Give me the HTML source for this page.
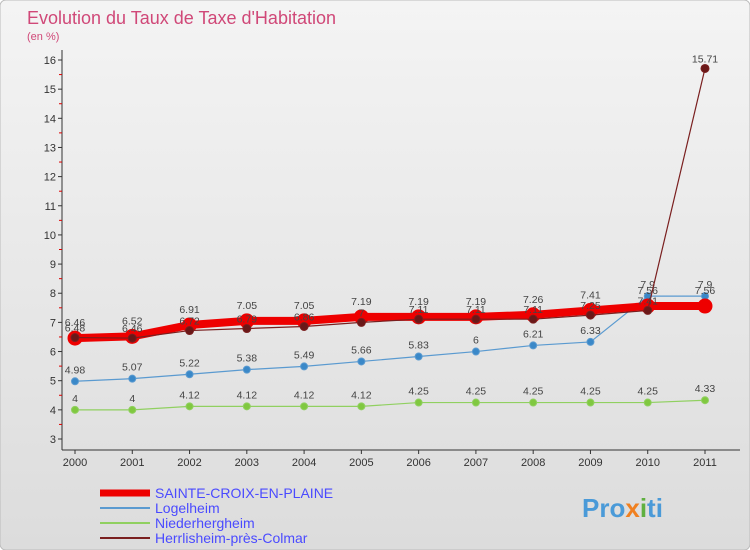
<!DOCTYPE html>
<html><head><meta charset="utf-8"><style>
body{margin:0;background:#fff}
svg{display:block;font-family:"Liberation Sans",sans-serif}
</style></head><body>
<svg width="750" height="550" viewBox="0 0 750 550">
<defs><linearGradient id="bg" x1="0" y1="0" x2="0" y2="1"><stop offset="0" stop-color="#f4f4f4"/><stop offset="1" stop-color="#dcdcdc"/></linearGradient></defs>
<rect x="0" y="0" width="750" height="550" rx="6" fill="url(#bg)" stroke="#bbb"/>
<text x="27" y="24" font-size="18" fill="#d04878">Evolution du Taux de Taxe d'Habitation</text>
<text x="27" y="40" font-size="11" fill="#d04878">(en %)</text>
<g id="axes"></g>
<g id="series"></g>
<g id="legend"></g>
<text x="582" y="517" font-size="26" font-weight="bold" fill="#4a9ad8">Pro<tspan fill="#f08020">x</tspan><tspan fill="#60b040">i</tspan>ti</text>
</svg>
<script>
const years=["2000","2001","2002","2003","2004","2005","2006","2007","2008","2009","2010","2011"];
const yTicks=[3,4,5,6,7,8,9,10,11,12,13,14,15,16];
const sainte=[6.46,6.52,6.91,7.05,7.05,7.19,7.19,7.19,7.26,7.41,7.56,7.56];
const logel=[4.98,5.07,5.22,5.38,5.49,5.66,5.83,6,6.21,6.33,7.9,7.9];
const nieder=[4,4,4.12,4.12,4.12,4.12,4.25,4.25,4.25,4.25,4.25,4.33];
const herr=[6.48,6.46,6.72,6.79,6.86,7,7.11,7.11,7.11,7.25,7.41,15.71];
const NS="http://www.w3.org/2000/svg";
const x=i=>75+i*(630/11);
const y=v=>439-(v-3)*(379/13);
function mk(t,a,p){const e=document.createElementNS(NS,t);for(const k in a)e.setAttribute(k,a[k]);p.appendChild(e);return e;}
const ax=document.getElementById('axes');
const yl=mk('line',{x1:62,y1:50,x2:62,y2:450,stroke:'#333'},ax);


const xl=mk('line',{x1:62,y1:450,x2:740,y2:450,stroke:'#333'},ax);


yTicks.forEach(v=>{
 mk('line',{x1:58,y1:y(v),x2:62,y2:y(v),stroke:'#333'},ax);
 if(v<16)mk('line',{x1:59,y1:y(v+0.5),x2:62,y2:y(v+0.5),stroke:'#d00'},ax);
 const t=mk('text',{x:56,y:y(v)+4,'font-size':11,'text-anchor':'end',fill:'#333'},ax);t.textContent=v;
 
 
});
years.forEach((yr,i)=>{
 mk('line',{x1:x(i),y1:450,x2:x(i),y2:454,stroke:'#333'},ax);
 const t=mk('text',{x:x(i),y:466,'font-size':11,'text-anchor':'middle',fill:'#333'},ax);t.textContent=yr;
 
 
});
const sg=document.getElementById('series');
function series(data,color,w,r,name,dot,labelOff){
 const g=mk('g',{},sg);
 
 
 mk('polyline',{points:data.map((v,i)=>x(i)+','+y(v)).join(' '),fill:'none',stroke:color,'stroke-width':w},g);
 data.forEach((v,i)=>{
  const c=mk('circle',{cx:x(i),cy:y(v),r:r,fill:dot,stroke:color,'stroke-width':1},g);
  
  
  const t=mk('text',{x:x(i),y:y(v)+labelOff,'font-size':10.5,'text-anchor':'middle',fill:'#444'},g);t.textContent=v;
  
  
 });
}
series(nieder,'#90d060',1.2,3.5,'niederhergheim-series','#80c840',-8);
series(logel,'#5a9ad0',1.2,3.5,'logelheim-series','#3a88c8',-8);
series(sainte,'#ee0000',8,7,'sainte-croix-series','#ee0000',-12);
series(herr,'#7a1f1f',1.2,4,'herrlisheim-series','#6a1818',-6);
const lg=document.getElementById('legend');
const items=[["SAINTE-CROIX-EN-PLAINE","#ee0000",7],["Logelheim","#5a9ad0",2],["Niederhergheim","#90d060",2],["Herrlisheim-près-Colmar","#7a1f1f",2]];
items.forEach((it,i)=>{
 const yy=493+i*15;
 const l=mk('line',{x1:100,y1:yy,x2:150,y2:yy,stroke:it[1],'stroke-width':it[2]},lg);
 
 
 const t=mk('text',{x:155,y:yy+5,'font-size':14,fill:'#4a4aff'},lg);t.textContent=it[0];
 
 
});
</script>
</body></html>
